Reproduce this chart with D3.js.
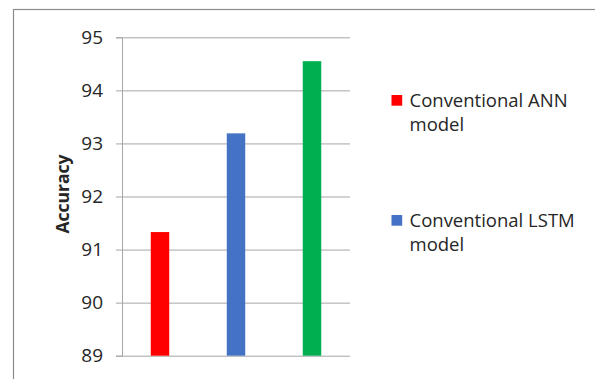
<!DOCTYPE html>
<html>
<head>
<meta charset="utf-8">
<script src="https://cdn.jsdelivr.net/npm/d3@7"></script>
<style>
  body { margin:0; background:#fff; }
  text { font-family:"Open Sans", sans-serif; fill:#262626; }
</style>
</head>
<body>
<div id="chart"></div>
<script>
(function() {
  var models = ["Conventional ANN model", "Conventional LSTM model", "Proposed model"];
  var accuracy = [91.33, 93.19, 94.55];
  var colors = ["#ff0000", "#4472c4", "#00b050"];
  var yTicks = [89, 90, 91, 92, 93, 94, 95];
  // only the first two legend entries are visible in the picture
  var legendItems = [["Conventional ANN", "model"], ["Conventional LSTM", "model"]];

  var width = 595, height = 379;

  var svg = d3.select("#chart")
            .append("svg")
            .attr("width", width)
            .attr("height", height);

  /* outer chart frame, cut off on the right and bottom */
  svg.append("rect")
      .attr("x", 13.5).attr("y", 9.5)
      .attr("width", 700).attr("height", 500)
      .attr("fill", "none")
      .attr("stroke", "#8c8c8c")
      .attr("stroke-width", 1.2);

  var x = d3.scaleBand()
      .domain(models)
      .range([122, 350])
      .paddingInner(0.757)
      .paddingOuter(0.757 / 2);

  var y = d3.scaleLinear()
      .domain([89, 95])
      .range([355.7, 37.3]);

  /* gridlines + tick labels */
  var yAxis = svg.append("g")
      .attr("transform", "translate(122,0)")
      .call(d3.axisLeft(y).tickValues(yTicks).tickSize(6).tickPadding(13)
              .tickFormat(d3.format("d")));
  yAxis.select(".domain").attr("stroke", "#a6a6a6");
  yAxis.selectAll(".tick line").attr("stroke", "#a6a6a6")
      .attr("x1", -6).attr("x2", 228);
  yAxis.selectAll(".tick text")
      .style("font-size", "19px")
      .style("font-family", "'Open Sans', sans-serif")
      .attr("fill", "#262626");

  /* bars */
  svg.selectAll(".bar")
      .data(accuracy)
      .enter()
      .append("rect")
      .attr("class", "bar")
      .attr("x", function(d, i) { return x(models[i]); })
      .attr("width", x.bandwidth())
      .attr("y", function(d) { return y(d); })
      .attr("height", function(d) { return y(89) - y(d); })
      .attr("fill", function(d, i) { return colors[i]; });

  svg.append("text")
      .attr("transform", "translate(69,194) rotate(-90)")
      .attr("text-anchor", "middle")
      .style("font-size", "17.5px")
      .style("font-weight", "bold")
      .text("Accuracy");

  /* legend */
  var legend = svg.selectAll(".legend")
      .data(legendItems)
      .enter()
      .append("g")
      .attr("class", "legend")
      .attr("transform", function(d, i) { return "translate(391.5," + (106.5 + i * 120) + ")"; });

  legend.append("rect")
      .attr("x", 0).attr("y", -11.5)
      .attr("width", 10.7).attr("height", 10.7)
      .attr("fill", function(d, i) { return colors[i]; });

  legend.append("text")
      .style("font-size", "18.5px")
      .selectAll("tspan")
      .data(function(d) { return d; })
      .enter()
      .append("tspan")
      .attr("x", 18)
      .attr("y", function(d, i) { return i * 24; })
      .text(function(d) { return d; });
})();
</script>
</body>
</html>
